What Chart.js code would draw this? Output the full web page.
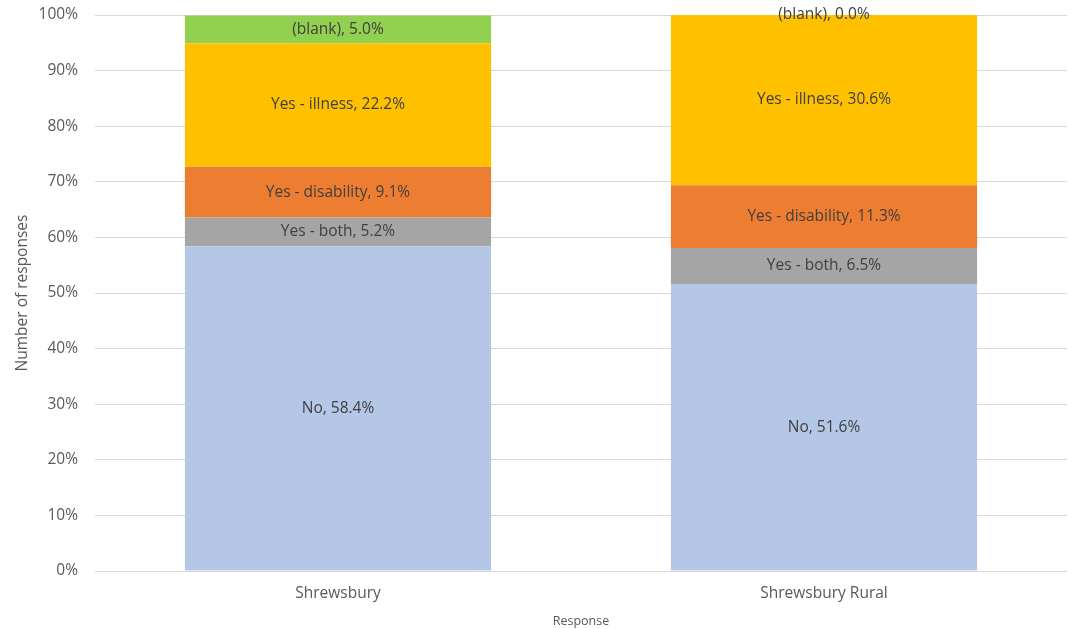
<!DOCTYPE html>
<html>
<head>
<meta charset="utf-8">
<script src="https://cdn.jsdelivr.net/npm/chart.js@4.4.0/dist/chart.umd.min.js"></script>
<style>
  html, body { margin: 0; padding: 0; background: #fff; }
  #wrap { width: 1071px; height: 629px; }
</style>
</head>
<body>
<div id="wrap"><canvas id="chart"></canvas></div>
<script>
const categories = ['Shrewsbury', 'Shrewsbury Rural'];
const seriesNames = ['No', 'Yes - both', 'Yes - disability', 'Yes - illness', '(blank)'];
const noValues = [58.4, 51.6];
const bothValues = [5.2, 6.5];
const disabilityValues = [9.1, 11.3];
const illnessValues = [22.2, 30.6];
const blankValues = [5.0, 0.0];
const yTicks = [0, 10, 20, 30, 40, 50, 60, 70, 80, 90, 100];

const colors = ['#B4C7E7', '#A5A5A5', '#ED7D31', '#FFC000', '#92D050'];
const allValues = [noValues, bothValues, disabilityValues, illnessValues, blankValues];

const font = "'Open Sans', 'Liberation Sans', sans-serif";

// draw "Series, value%" in the middle of each bar segment
const barLabels = {
  id: 'barLabels',
  afterDatasetsDraw(chart) {
    const ctx = chart.ctx;
    ctx.save();
    ctx.font = '15.5px ' + font;
    ctx.fillStyle = '#404040';
    ctx.textAlign = 'center';
    ctx.textBaseline = 'middle';
    chart.data.datasets.forEach((ds, i) => {
      const meta = chart.getDatasetMeta(i);
      meta.data.forEach((bar, j) => {
        const v = ds.data[j];
        const yc = (bar.y + bar.base) / 2;
        ctx.fillText(ds.label + ', ' + v.toFixed(1) + '%', bar.x, yc);
      });
    });
    ctx.restore();
  }
};

new Chart(document.getElementById('chart'), {
  type: 'bar',
  data: {
    labels: categories,
    datasets: seriesNames.map((name, i) => ({
      label: name,
      data: allValues[i],
      backgroundColor: colors[i],
      borderWidth: 0,
      barPercentage: 1,
      categoryPercentage: 0.63
    }))
  },
  options: {
    responsive: true,
    maintainAspectRatio: false,
    animation: false,
    layout: { padding: { top: 15, right: 4, left: 0, bottom: 0 } },
    plugins: {
      legend: { display: false },
      tooltip: { enabled: false }
    },
    scales: {
      x: {
        stacked: true,
        grid: { display: false, drawTicks: false },
        border: { display: false },
        ticks: { color: '#595959', font: { family: font, size: 15.5 }, padding: 13 },
        title: { display: true, text: 'Response', color: '#595959', font: { family: font, size: 12.5 }, padding: { top: 5, bottom: 0 } },
        afterFit(scale) { scale.height = 58; }
      },
      y: {
        stacked: true,
        min: 0,
        max: 100,
        afterBuildTicks(scale) { scale.ticks = yTicks.map(v => ({ value: v })); },
        grid: { color: '#D9D9D9', drawTicks: false },
        border: { display: false },
        ticks: {
          color: '#595959',
          font: { family: font, size: 15.5 },
          padding: 17,
          callback: v => v + '%'
        },
        title: { display: true, text: 'Number of responses', color: '#595959', font: { family: font, size: 15.5 }, padding: { top: 13, bottom: 4 } },
        afterFit(scale) {
          scale.width = 95;
          scale.paddingTop = 0;
          scale.paddingBottom = 0;
        }
      }
    }
  },
  plugins: [barLabels]
});
</script>
</body>
</html>
